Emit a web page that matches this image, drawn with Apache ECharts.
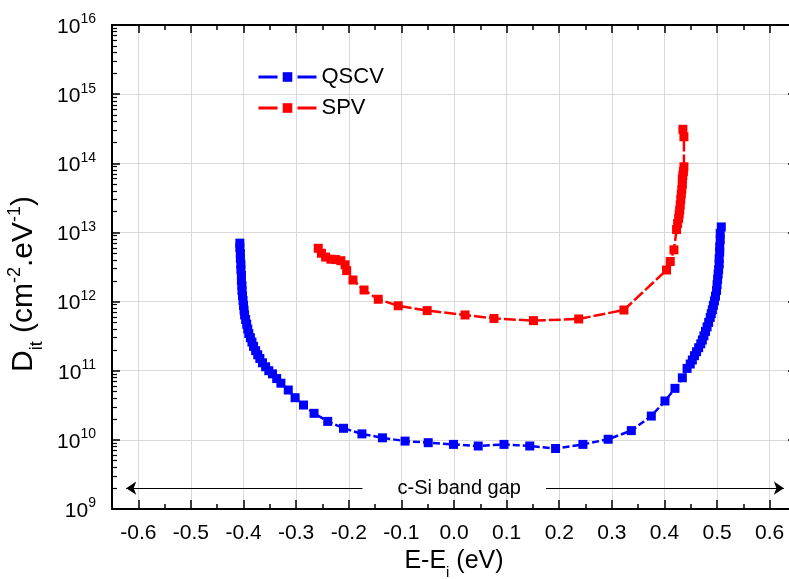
<!DOCTYPE html>
<html>
<head>
<meta charset="utf-8">
<script src="https://cdn.jsdelivr.net/npm/echarts@6/dist/echarts.min.js"></script>
<style>
html,body{margin:0;padding:0;background:#fff;}
#chart{width:789px;height:579px;}
</style>
</head>
<body>
<div id="chart"></div>
<script>
// ---- data ----
const qscvE = [-0.407,-0.407,-0.406,-0.406,-0.405,-0.405,-0.404,-0.404,-0.403,-0.403,-0.402,-0.401,-0.400,-0.399,-0.398,-0.396,-0.394,-0.392,-0.390,-0.387,-0.384,-0.381,-0.377,-0.373,-0.369,-0.364,-0.358,-0.352,-0.345,-0.337,-0.329,-0.315,-0.302,-0.286,-0.266,-0.240,-0.210,-0.175,-0.136,-0.093,-0.049,-0.001,0.046,0.095,0.144,0.193,0.245,0.293,0.337,0.375,0.401,0.420,0.434,0.443,0.449,0.453,0.457,0.461,0.465,0.469,0.472,0.475,0.478,0.481,0.484,0.487,0.489,0.491,0.493,0.495,0.497,0.499,0.500,0.501,0.502,0.503,0.504,0.504,0.505,0.505,0.506,0.506,0.508];
const qscvD = [7.0e12,6.0e12,5.0e12,4.2e12,3.5e12,2.9e12,2.4e12,2.0e12,1.7e12,1.45e12,1.22e12,1.04e12,8.8e11,7.5e11,6.4e11,5.5e11,4.7e11,4.0e11,3.45e11,3.0e11,2.6e11,2.25e11,1.95e11,1.7e11,1.5e11,1.3e11,1.14e11,1.0e11,9.0e10,7.7e10,6.6e10,5.26e10,4.07e10,3.19e10,2.42e10,1.85e10,1.47e10,1.22e10,1.07e10,9.6e9,9.1e9,8.6e9,8.15e9,8.6e9,8.15e9,7.5e9,8.6e9,1.02e10,1.36e10,2.21e10,3.65e10,5.56e10,7.9e10,1.08e11,1.25e11,1.43e11,1.65e11,1.88e11,2.15e11,2.45e11,2.78e11,3.2e11,3.7e11,4.3e11,5.0e11,5.9e11,6.7e11,7.6e11,8.8e11,1.02e12,1.2e12,1.45e12,1.75e12,2.1e12,2.5e12,2.9e12,3.5e12,4.2e12,5.2e12,6.2e12,7.8e12,9.7e12,1.2e13];
const spvE = [-0.258,-0.252,-0.244,-0.234,-0.225,-0.215,-0.207,-0.204,-0.192,-0.171,-0.144,-0.106,-0.051,0.021,0.076,0.151,0.237,0.323,0.404,0.411,0.418,0.423,0.425,0.427,0.428,0.429,0.430,0.431,0.432,0.433,0.434,0.434,0.435,0.436,0.437,0.437,0.435];
const spvD = [5.9e12,5.0e12,4.4e12,4.1e12,4.05e12,3.9e12,3.4e12,2.8e12,2.05e12,1.47e12,1.08e12,8.7e11,7.4e11,6.4e11,5.7e11,5.3e11,5.6e11,7.55e11,2.86e12,3.8e12,5.6e12,1.1e13,1.35e13,1.6e13,1.85e13,2.1e13,2.5e13,3.0e13,3.6e13,4.2e13,5.0e13,5.9e13,6.7e13,7.6e13,8.9e13,2.42e14,3.1e14];
const seriesNames = ['QSCV', 'SPV'];
const xTicks = [-0.6,-0.5,-0.4,-0.3,-0.2,-0.1,0.0,0.1,0.2,0.3,0.4,0.5,0.6];
const xMinorTicks = [-0.65,-0.55,-0.45,-0.35,-0.25,-0.15,-0.05,0.05,0.15,0.25,0.35,0.45,0.55,0.65];
const yDecades = [9,10,11,12,13,14,15,16];
const yMinorMultipliers = [2,3,4,5,6,7,8,9];
const bandGapLabel = 'c-Si band gap';
const bandGapY = 2e9;
const arrowLeft = [-0.174, -0.623];
const arrowRight = [0.175, 0.627];
const bandGapTextX = 0.01;

const FONT = 'Liberation Sans, Arial, sans-serif';
const GRID = {left: 112, top: 25, right: -7, bottom: 70, containLabel: false, outerBoundsMode: 'none'};

const yMajorTicks = yDecades.map(d => Math.pow(10, d));
const yMinorTicks = [];
yDecades.slice(0, -1).forEach(d => yMinorMultipliers.forEach(m => yMinorTicks.push(m * Math.pow(10, d))));

const chart = echarts.init(document.getElementById('chart'));

function zip(a, b) { return a.map((v, i) => [v, b[i]]); }

const majorX = (pos) => ({
  type: 'value', gridIndex: 0, position: pos, min: -0.65, max: 0.65, splitNumber: 13,
  axisLine: {show: true, onZero: false, lineStyle: {color: '#000', width: 2}},
  axisTick: {show: true, inside: true, length: pos === 'bottom' ? 9 : 8, customValues: xTicks, lineStyle: {color: '#000', width: 1.5}},
  axisLabel: pos === 'bottom' ? {
    show: true, customValues: xTicks, margin: 14, fontSize: 21, color: '#000', fontFamily: FONT,
    formatter: v => (Math.abs(v) < 1e-9 ? 0 : v).toFixed(1)
  } : {show: false},
  splitLine: {show: pos === 'bottom', lineStyle: {color: '#d9d9d9', width: 1}},
  name: pos === 'bottom' ? '{b|E-E}{sub|i}{b| (eV)}' : '',
  nameLocation: 'middle', nameGap: 40,
  nameTextStyle: {fontFamily: FONT, color: '#000', rich: {
    b: {fontSize: 25, fontFamily: FONT, color: '#000', verticalAlign: 'bottom', padding: [0,0,6,0]},
    sub: {fontSize: 15, fontFamily: FONT, color: '#000', verticalAlign: 'bottom', padding: [0,0,0,0]}
  }}
});

const minorX = (pos) => ({
  type: 'value', gridIndex: 1, position: pos, min: -0.65, max: 0.65, interval: 0.05,
  axisLine: {show: false, onZero: false},
  axisTick: {show: true, inside: true, length: 5, customValues: xMinorTicks, lineStyle: {color: '#000', width: 1.5}},
  axisLabel: {show: false},
  splitLine: {show: false}
});

const logY = (pos) => ({
  type: 'log', logBase: 10, gridIndex: 0, position: pos, min: 1e9, max: 1e16, splitNumber: 7,
  axisLine: {show: true, onZero: false, lineStyle: {color: '#000', width: 2}},
  axisTick: {show: true, inside: true, length: 8, customValues: yMajorTicks, lineStyle: {color: '#000', width: 1.5}},
  splitLine: {show: pos === 'left', lineStyle: {color: '#d9d9d9', width: 1}},
  axisLabel: pos === 'left' ? {
    show: true, customValues: yMajorTicks, margin: 16, fontFamily: FONT, color: '#000',
    formatter: v => '{b|10}{s|' + Math.round(Math.log10(v)) + '}',
    rich: {
      b: {fontSize: 21, fontFamily: FONT, color: '#000', verticalAlign: 'bottom'},
      s: {fontSize: 14, fontFamily: FONT, color: '#000', verticalAlign: 'bottom', padding: [0,0,11,0]}
    }
  } : {show: false},
  name: pos === 'left' ? '{b|D}{sub|it}{b| (cm}{sup|-2}{b|.eV}{sup|-1}{e|)}' : '',
  nameLocation: 'middle', nameGap: 55, nameRotate: 90,
  nameTextStyle: {fontFamily: FONT, color: '#000', rich: {
    b: {fontSize: 30, fontFamily: FONT, color: '#000', verticalAlign: 'bottom', padding: [0,0,7,0]},
    e: {fontSize: 30, fontFamily: FONT, color: '#000', verticalAlign: 'bottom', padding: [0,34,7,0]},
    sub: {fontSize: 18, fontFamily: FONT, color: '#000', verticalAlign: 'bottom', padding: [0,0,0,0]},
    sup: {fontSize: 18, fontFamily: FONT, color: '#000', verticalAlign: 'bottom', padding: [0,0,22,0]}
  }}
});

const minorY = {
  type: 'log', logBase: 10, gridIndex: 1, position: 'left', min: 1e9, max: 1e16, splitNumber: 7,
  axisLine: {show: false, onZero: false},
  axisTick: {show: true, inside: true, length: 5, customValues: yMinorTicks, lineStyle: {color: '#000', width: 1.2}},
  axisLabel: {show: false},
  splitLine: {show: false}
};

const option = {
  backgroundColor: '#fff',
  animation: false,
  grid: [Object.assign({}, GRID), Object.assign({}, GRID)],
  xAxis: [majorX('bottom'), majorX('top'), minorX('bottom'), minorX('top')],
  yAxis: [logY('left'), logY('right'), minorY],
  legend: {
    data: seriesNames, orient: 'vertical', left: 257, top: 66, padding: 0,
    itemWidth: 58, itemHeight: 12, itemGap: 9,
    textStyle: {fontSize: 22, fontFamily: FONT, color: '#000'},
    lineStyle: {type: [19, 20], width: 3}
  },
  series: [
    {
      name: seriesNames[0], type: 'line', xAxisIndex: 0, yAxisIndex: 0,
      data: zip(qscvE, qscvD), symbol: 'rect', symbolSize: 9,
      itemStyle: {color: '#0000ff'},
      lineStyle: {color: '#0000ff', width: 2.5, type: [7, 3]},
      z: 3,
      markLine: {
        silent: true, symbol: ['none', 'arrow'], symbolSize: 10,
        label: {show: false},
        itemStyle: {color: '#000'},
        lineStyle: {color: '#000', width: 1, type: 'solid'},
        emphasis: {disabled: true},
        data: [
          [{coord: [arrowLeft[0], bandGapY]}, {coord: [arrowLeft[1], bandGapY]}],
          [{coord: [arrowRight[0], bandGapY]}, {coord: [arrowRight[1], bandGapY]}]
        ]
      }
    },
    {
      name: seriesNames[1], type: 'line', xAxisIndex: 0, yAxisIndex: 0,
      data: zip(spvE, spvD), symbol: 'rect', symbolSize: 9,
      itemStyle: {color: '#ff0000'},
      lineStyle: {color: '#ff0000', width: 2.5, type: [12, 3]},
      z: 3
    }
  ]
};
chart.setOption(option);

const p = chart.convertToPixel({xAxisIndex: 0, yAxisIndex: 0}, [bandGapTextX, bandGapY]);
chart.setOption({
  graphic: [{
    type: 'text', x: p[0], y: p[1], z: 10, silent: true,
    style: {text: bandGapLabel, fontSize: 20, fontFamily: FONT, fill: '#000',
      align: 'center', verticalAlign: 'middle', textAlign: 'center', textVerticalAlign: 'middle'}
  }]
});
</script>
</body>
</html>
